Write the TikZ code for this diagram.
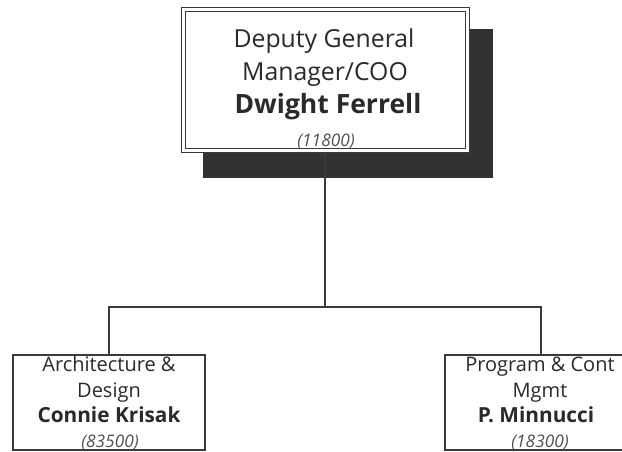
\documentclass[tikz,border=0pt]{standalone}
\usepackage{fontspec}
\setmainfont{Open Sans}
\definecolor{linegray}{HTML}{3A3A3A}
\definecolor{shadowgray}{HTML}{323232}
\definecolor{textgray}{HTML}{2A2A2A}
\definecolor{codegray}{HTML}{505050}
\begin{document}
\begin{tikzpicture}[x=1pt,y=-1pt,
  ink/.style={draw=linegray, line width=1.7pt},
  topbox/.style={draw=linegray, double=white, double distance=2.4pt, line width=1.3pt,
    fill=white, minimum width=284pt, minimum height=141pt, inner sep=0pt},
  unitbox/.style={ink, fill=white, minimum width=192pt, minimum height=95pt, inner sep=0pt},
  bigline/.style={anchor=base, inner sep=0pt, text=textgray, font=\fontsize{24.8}{29}\selectfont},
  bigname/.style={bigline, font=\fontsize{26.5}{31}\selectfont\bfseries},
  smallline/.style={anchor=base, inner sep=0pt, text=textgray, font=\fontsize{20}{24}\selectfont},
  smallname/.style={smallline, font=\fontsize{20.8}{25}\selectfont\bfseries},
  code/.style={anchor=base, inner sep=0pt, text=codegray, font=\fontsize{17.3}{20}\selectfont\itshape}]
\useasboundingbox (0,0) rectangle (622,451);
\clip (0,0) rectangle (622,451);

% drop shadow behind the top box
\fill[shadowgray] (203,29) rectangle (493,178);

% connector positions
\coordinate (bus) at (325,307);

% boxes
\node[unitbox] (arch) at (109,402.5) {};
\node[unitbox] (prog) at (541,402.5) {};

% connectors
\draw[ink] (325,150) -- (bus);
\draw[ink] (arch.north) |- (bus) -| (prog.north);

\node[topbox] (coo) at (325.5,80) {};

% top box text
\node[bigline] (cooA) at (324,47) {Deputy General};
\node[bigline] (cooB) at (325,80) {Manager/COO};
\node[bigname] (cooC) at (328,113) {Dwight Ferrell};
\node[code] (cooD) at (326,146) {(11800)};

% left unit text
\node[smallline] (archA) at (109,371) {Architecture \&};
\node[smallline] (archB) at (109,397) {Design};
\node[smallname] (archC) at (109,422) {Connie Krisak};
\node[code] (archD) at (110,447) {(83500)};

% right unit text
\node[smallline] (progA) at (540,371) {Program \& Cont};
\node[smallline] (progB) at (540,397) {Mgmt};
\node[smallname] (progC) at (536,422) {P. Minnucci};
\node[code] (progD) at (540,447) {(18300)};
\end{tikzpicture}
\end{document}
